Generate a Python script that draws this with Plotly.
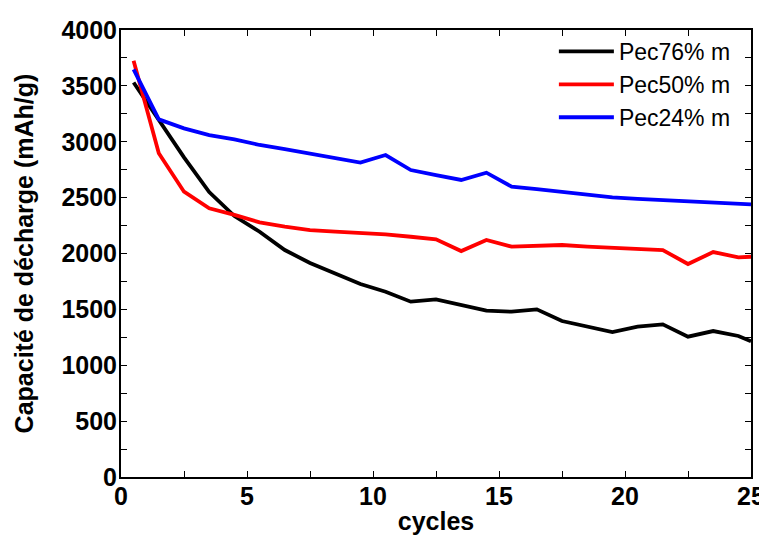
import plotly.graph_objects as go

cycles = [0.5, 1.5, 2.5, 3.5, 4.5, 5.5, 6.5, 7.5, 8.5, 9.5, 10.5, 11.5, 12.5,
          13.5, 14.5, 15.5, 16.5, 17.5, 18.5, 19.5, 20.5, 21.5, 22.5, 23.5, 24.5, 25]

pec76 = [3530, 3195, 2860, 2550, 2335, 2195, 2031, 1915, 1825, 1727, 1658, 1569, 1590,
         1539, 1488, 1479, 1500, 1396, 1345, 1297, 1345, 1366, 1256, 1306, 1262, 1215]
pec50 = [3725, 2897, 2553, 2404, 2345, 2279, 2240, 2210, 2195, 2186, 2172, 2150, 2127,
         2022, 2121, 2061, 2067, 2076, 2061, 2049, 2043, 2031, 1906, 2013, 1966, 1971]
pec24 = [3648, 3200, 3120, 3060, 3022, 2971, 2935, 2897, 2852, 2813, 2881, 2747, 2702,
         2658, 2723, 2598, 2577, 2553, 2532, 2503, 2488, 2476, 2464, 2452, 2446, 2440]

series = [("Pec76% m", pec76, "black"), ("Pec50% m", pec50, "red"), ("Pec24% m", pec24, "blue")]

fig = go.Figure()
for name, vals, col in series:
    fig.add_trace(go.Scatter(x=cycles, y=vals, mode="lines", name=name,
                             line=dict(color=col, width=3.8)))

FONT = "Liberation Sans, Arial"
axis_common = dict(
    showline=True, linecolor="black", linewidth=2, mirror="ticks",
    ticks="inside", ticklen=6, tickwidth=1, tickcolor="black",
    showgrid=False, zeroline=False, automargin=False,
    tickfont=dict(family=FONT, size=25, color="black", weight="bold"),
)

fig.update_layout(
    width=759, height=527,
    margin=dict(l=113, r=16, t=22, b=58),
    plot_bgcolor="white", paper_bgcolor="white",
    showlegend=True,
    legend=dict(x=0.976, y=1.0, xanchor="right", yanchor="top",
                font=dict(family=FONT, size=23, color="black"),
                itemwidth=55,
                bgcolor="rgba(0,0,0,0)", tracegroupgap=0),
    xaxis=dict(range=[0, 25], tickmode="array", tickvals=[0, 5, 10, 15, 20, 25],
               ticktext=["0", "5", "10", "15", "20", "25"],
               ticklabelstandoff=-4,
               minor=dict(ticks="inside", ticklen=6, tickcolor="black", dtick=2.5, tick0=0),
               title=dict(text="cycles", standoff=7,
                          font=dict(family=FONT, size=25, color="black", weight="bold")),
               **axis_common),
    yaxis=dict(range=[0, 4000], tickmode="array",
               tickvals=[0, 500, 1000, 1500, 2000, 2500, 3000, 3500, 4000],
               ticktext=["0", "500", "1000", "1500", "2000", "2500", "3000", "3500", "4000"],
               ticklabelstandoff=-3,
               minor=dict(ticks="inside", ticklen=6, tickcolor="black", dtick=250, tick0=0),
               title=dict(text="Capacité de décharge (mAh/g)", standoff=21,
                          font=dict(family=FONT, size=25, color="black", weight="bold")),
               **axis_common),
)

fig.write_html("out.html")
